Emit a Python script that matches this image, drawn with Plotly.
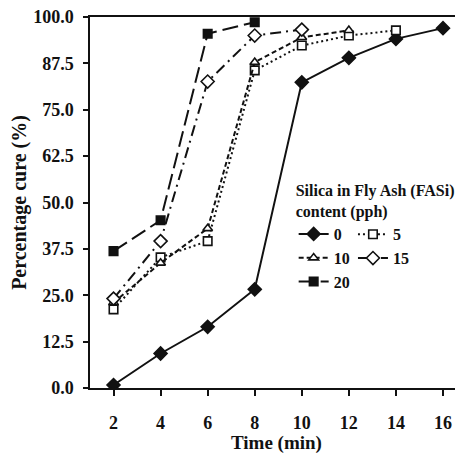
import plotly.graph_objects as go

# ---- data ----
time_all = [2, 4, 6, 8, 10, 12, 14, 16]
cure_0 = [0.8, 9.3, 16.5, 26.6, 82.4, 89.0, 94.1, 97.0]
time_5 = [2, 4, 6, 8, 10, 12, 14]
cure_5 = [21.2, 35.2, 39.6, 85.6, 92.3, 95.0, 96.4]
time_10 = [2, 4, 6, 8, 10, 12]
cure_10 = [23.0, 33.7, 43.0, 87.8, 94.5, 96.4]
time_15 = [2, 4, 6, 8, 10]
cure_15 = [24.1, 39.6, 82.6, 95.0, 96.6]
time_20 = [2, 4, 6, 8]
cure_20 = [36.9, 45.2, 95.5, 98.6]

y_ticks = [0, 12.5, 25, 37.5, 50, 62.5, 75, 87.5, 100]
x_ticks = [2, 4, 6, 8, 10, 12, 14, 16]

FONT = "Liberation Serif"
INK = "#111111"

fig = go.Figure()

def add(name, x, y, dash, symbol, filled, legend):
    fig.add_trace(go.Scatter(
        x=x, y=y, name=name, mode="lines+markers",
        line=dict(color=INK, width=2, dash=dash),
        marker=dict(symbol=symbol, size=10 if "diamond" in symbol else 8.5,
                    color=INK if filled else "white",
                    line=dict(color=INK, width=1.6)),
        legend=legend,
    ))

add("0", time_all, cure_0, "solid", "diamond", True, "legend")
add("5", time_5, cure_5, "2px,3px", "square", False, "legend2")
add("10", time_10, cure_10, "5px,3px", "triangle-up", False, "legend")
add("15", time_15, cure_15, "11px,5px,2px,5px", "diamond", False, "legend2")
add("20", time_20, cure_20, "16px,6px", "square", True, "legend")

axis_font = dict(family=FONT, size=18, color=INK, weight="bold")

# the page body adds an 8px offset, so the figure is sized to fit the window
fig.update_layout(
    width=455, height=453,
    margin=dict(l=82, r=0, t=8.5, b=73, autoexpand=False),
    paper_bgcolor="white", plot_bgcolor="white",
    font=dict(family=FONT, color=INK, weight="bold"),
    xaxis=dict(
        range=[1, 16.85], tickvals=x_ticks, ticks="outside", ticklen=6,
        tickwidth=1.5, tickcolor=INK, showline=True, linecolor=INK,
        linewidth=1.5, mirror=True, showgrid=False, zeroline=False,
        tickfont=axis_font, ticklabelstandoff=12, automargin=False,
        ticklabeloverflow="allow",
    ),
    yaxis=dict(
        range=[0, 100], tickvals=y_ticks, tickformat=".1f", ticks="outside",
        ticklen=5, tickwidth=1.5, tickcolor=INK, showline=True,
        linecolor=INK, linewidth=1.5, showgrid=False, zeroline=False,
        tickfont=axis_font, ticklabelstandoff=6, automargin=False,
        ticklabeloverflow="allow",
        title=dict(text="Percentage cure (%)", font=dict(family=FONT,
                   size=20, color=INK, weight="bold"), standoff=11),
    ),
    xaxis2=dict(
        overlaying="x", anchor="y", side="bottom", range=[1, 16.85],
        dtick=1, tick0=1, ticks="inside", ticklen=5, tickwidth=1.5,
        tickcolor=INK, showticklabels=False, showline=False,
        showgrid=False, zeroline=False, automargin=False,
    ),
    yaxis2=dict(
        overlaying="y", anchor="x", side="left", range=[0, 100],
        dtick=6.25, tick0=0, ticks="inside", ticklen=5, tickwidth=1.5,
        tickcolor=INK, showticklabels=False, showline=False,
        showgrid=False, zeroline=False, automargin=False,
    ),
    legend=dict(
        x=0.546, y=0.573, xanchor="left", yanchor="top",
        bgcolor="rgba(0,0,0,0)", borderwidth=0,
        font=dict(family=FONT, size=16, color=INK, weight="bold"),
        title=dict(text="Silica in Fly Ash (FASi)<br>content (pph)",
                   font=dict(family=FONT, size=16, color=INK, weight="bold")),
        tracegroupgap=0, itemwidth=30,
    ),
    legend2=dict(
        x=0.705, y=0.460, xanchor="left", yanchor="top",
        bgcolor="rgba(0,0,0,0)", borderwidth=0,
        font=dict(family=FONT, size=16, color=INK, weight="bold"),
        tracegroupgap=0, itemwidth=30,
    ),
    annotations=[dict(
        text="Time (min)", xref="paper", yref="paper", x=0.5, y=-0.148,
        xanchor="center", yanchor="middle", showarrow=False,
        font=dict(family=FONT, size=19, color=INK, weight="bold"),
    )],
)

fig.write_html("out.html")
